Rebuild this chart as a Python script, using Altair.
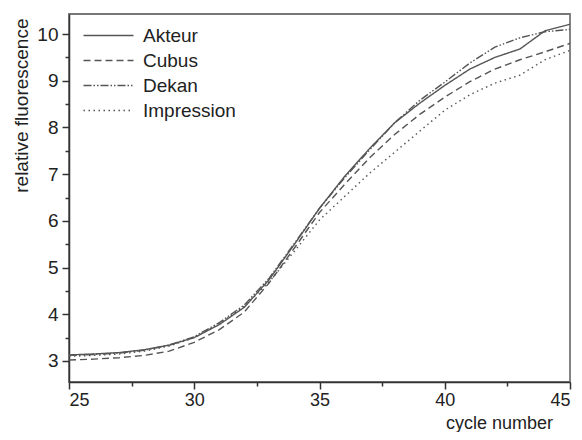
import altair as alt
import pandas as pd

cycles = list(range(25, 46))
series = ["Akteur", "Cubus", "Dekan", "Impression"]
akteur = [3.13, 3.15, 3.18, 3.24, 3.34, 3.50, 3.78, 4.15, 4.75, 5.50, 6.27, 6.95, 7.55, 8.10, 8.52, 8.90, 9.25, 9.50, 9.68, 10.07, 10.21]
cubus = [3.02, 3.04, 3.07, 3.12, 3.21, 3.40, 3.67, 4.05, 4.68, 5.42, 6.18, 6.78, 7.35, 7.85, 8.28, 8.65, 8.98, 9.25, 9.45, 9.62, 9.80]
dekan = [3.12, 3.14, 3.17, 3.23, 3.34, 3.52, 3.82, 4.20, 4.78, 5.52, 6.27, 6.92, 7.52, 8.10, 8.58, 8.97, 9.38, 9.72, 9.92, 10.05, 10.10]
impression = [3.10, 3.12, 3.15, 3.21, 3.32, 3.50, 3.80, 4.17, 4.70, 5.35, 6.02, 6.52, 7.02, 7.47, 7.92, 8.37, 8.70, 8.95, 9.12, 9.45, 9.65]
dashes = [[1, 0], [7, 4], [8, 2, 1.5, 2, 1.5, 2], [1.5, 3.5]]

x_major = [25, 30, 35, 40, 45]
x_minor = [27.5, 32.5, 37.5, 42.5]
y_major = [3, 4, 5, 6, 7, 8, 9, 10]
y_minor = [3.5, 4.5, 5.5, 6.5, 7.5, 8.5, 9.5]

rows = []
for name, vals in zip(series, [akteur, cubus, dekan, impression]):
    for c, v in zip(cycles, vals):
        rows.append({"cycle": c, "value": v, "series": name})
df = pd.DataFrame(rows)

FONT = "Liberation Sans"
TXT = "#222222"
xscale = alt.Scale(domain=[25, 45], nice=False, zero=False)
yscale = alt.Scale(domain=[2.55, 10.43], nice=False, zero=False)

base = alt.Chart(df)

lines = base.mark_line(strokeWidth=1.4, color="#555555").encode(
    x=alt.X(
        "cycle:Q",
        scale=xscale,
        axis=alt.Axis(
            orient="bottom",
            title="cycle number",
            values=x_major,
            format="d",
            tickSize=7,
            labelPadding=2,
            labelFontSize=18,
            titleFontSize=18,
            titleFontWeight="normal",
            titleAlign="center",
            titleBaseline="alphabetic",
            titleX=430,
            titleY=46,
        ),
    ),
    y=alt.Y(
        "value:Q",
        scale=yscale,
        axis=alt.Axis(
            orient="left",
            title="relative fluorescence",
            values=y_major,
            format="d",
            tickSize=7,
            labelPadding=4,
            titleFontSize=19,
            titleFontWeight="normal",
            titleAngle=270,
            titleAlign="right",
            titleBaseline="alphabetic",
            titleX=-42,
            titleY=4,
        ),
    ),
    strokeDash=alt.StrokeDash(
        "series:N",
        scale=alt.Scale(domain=series, range=dashes),
        legend=alt.Legend(
            title=None,
            orient="none",
            legendX=50,
            legendY=12,
            symbolType="M-9,0H1",
            symbolSize=100,
            symbolStrokeColor="#555555",
            symbolStrokeWidth=1.4,
            labelFontSize=19,
            labelFont=FONT,
            labelColor=TXT,
            labelOffset=5,
            rowPadding=5,
            padding=0,
        ),
    ),
)

minor = base.mark_line(opacity=0).encode(
    x=alt.X(
        "cycle:Q",
        scale=xscale,
        axis=alt.Axis(orient="bottom", values=x_minor, labels=False, title=None,
                      tickSize=4, domain=False),
    ),
    y=alt.Y(
        "value:Q",
        scale=yscale,
        axis=alt.Axis(orient="left", values=y_minor, labels=False, title=None,
                      tickSize=4, domain=False),
    ),
    detail="series:N",
)

chart = (
    alt.layer(lines, minor)
    .resolve_axis(x="independent", y="independent")
    .properties(
        width=501,
        height=368,
        autosize=alt.AutoSizeParams(type="none"),
        padding={"left": 61, "top": 6, "right": 4, "bottom": 50},
    )
    .configure_view(stroke="#777777", strokeWidth=1.8)
    .configure_axis(
        labelFont=FONT,
        titleFont=FONT,
        labelFontSize=19,
        labelColor=TXT,
        titleColor=TXT,
        domainColor="#333333",
        domainWidth=1.5,
        tickColor="#333333",
        tickWidth=1.5,
        grid=False,
    )
)

chart.save("out.html", embed_options={"renderer": "svg", "actions": False})
